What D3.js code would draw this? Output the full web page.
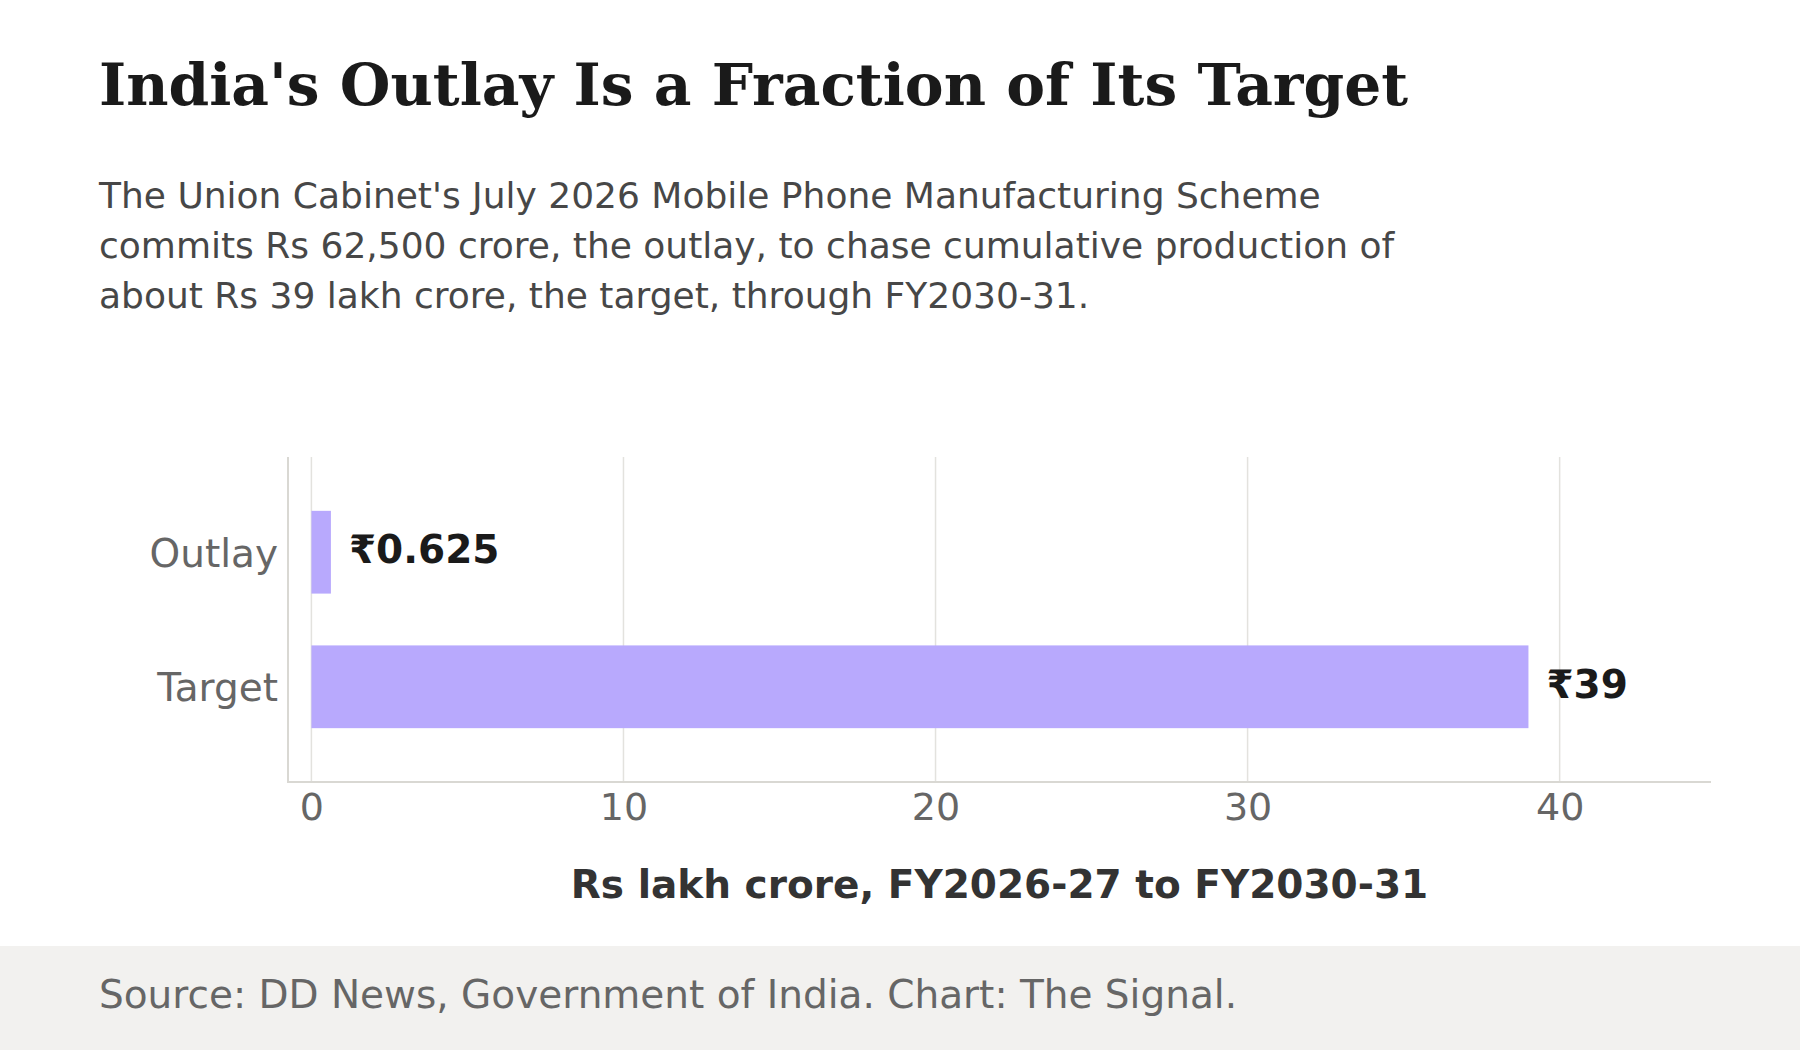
<!DOCTYPE html>
<html>
<head>
<meta charset="utf-8">
<script src="https://cdn.jsdelivr.net/npm/d3@7"></script>
<style>
  html, body { margin: 0; padding: 0; background: #ffffff; }
  svg { display: block; }
</style>
</head>
<body>
<svg id="chart" width="1800" height="1050"></svg>
<script>
// ---- Data ----
const categories = ["Outlay", "Target"];
const values = [0.625, 39];
const valueLabels = ["₹0.625", "₹39"];
const xTicks = [0, 10, 20, 30, 40];
const titleText = "India's Outlay Is a Fraction of Its Target";
const subtitleLines = [
  "The Union Cabinet's July 2026 Mobile Phone Manufacturing Scheme",
  "commits Rs 62,500 crore, the outlay, to chase cumulative production of",
  "about Rs 39 lakh crore, the target, through FY2030-31."
];
const xAxisTitle = "Rs lakh crore, FY2026-27 to FY2030-31";
const sourceText = "Source: DD News, Government of India. Chart: The Signal.";

// ---- Layout ----
const W = 1800, H = 1050;
const plot = { left: 288, right: 1711, top: 457, bottom: 782 };
const barColor = "#b8a9fd";
const sans = "'DejaVu Sans', sans-serif";
const serif = "'DejaVu Serif', serif";

const svg = d3.select("#chart");
svg.append("rect").attr("x", 0).attr("y", 0).attr("width", W).attr("height", H).attr("fill", "#ffffff");

// Title
svg.append("text")
  .attr("x", 99).attr("y", 105)
  .attr("font-family", serif).attr("font-weight", "bold")
  .attr("font-size", 58.2).attr("fill", "#1a1a1a")
  .text(titleText);

// Subtitle
svg.append("g").selectAll("text").data(subtitleLines).join("text")
  .attr("x", 99).attr("y", (d, i) => 208 + i * 50)
  .attr("font-family", sans).attr("font-size", 36).attr("fill", "#474747")
  .text(d => d);

// Scales
const x = d3.scaleLinear().domain([-0.75, 44.85]).range([plot.left, plot.right]);
const y = d3.scaleBand().domain(categories).range([plot.top, plot.bottom])
  .paddingInner(0.385).paddingOuter(0.4);

// Gridlines
svg.append("g").selectAll("line").data(xTicks).join("line")
  .attr("x1", d => x(d)).attr("x2", d => x(d))
  .attr("y1", plot.top).attr("y2", plot.bottom)
  .attr("stroke", "#e3e2de").attr("stroke-width", 1.5);

// Bars
const data = categories.map((c, i) => ({ c, v: values[i], label: valueLabels[i] }));
svg.append("g").selectAll("rect").data(data).join("rect")
  .attr("x", x(0)).attr("y", d => y(d.c))
  .attr("width", d => x(d.v) - x(0)).attr("height", y.bandwidth())
  .attr("fill", barColor);

// Value labels
svg.append("g").selectAll("text").data(data).join("text")
  .attr("x", d => x(d.v) + 18)
  .attr("y", d => y(d.c) + y.bandwidth() / 2)
  .attr("dy", "0.28em")
  .attr("font-family", sans).attr("font-weight", "bold")
  .attr("font-size", 39).attr("fill", "#1a1a1a")
  .text(d => d.label);

// X axis
const xAxis = d3.axisBottom(x).tickValues(xTicks).tickSize(0).tickPadding(11).tickFormat(d3.format("d"));
const gx = svg.append("g").attr("transform", `translate(0,${plot.bottom})`).call(xAxis);
gx.select(".domain").remove();
gx.selectAll("text").attr("font-family", sans).attr("font-size", 38).attr("fill", "#666666");

// Y axis
const yAxis = d3.axisLeft(y).tickSize(0).tickPadding(10);
const gy = svg.append("g").attr("transform", `translate(${plot.left},0)`).call(yAxis);
gy.select(".domain").remove();
gy.selectAll("text").attr("font-family", sans).attr("font-size", 39).attr("fill", "#666666").attr("dy", "0.37em");

// Axis lines
svg.append("line").attr("x1", plot.left).attr("x2", plot.left)
  .attr("y1", plot.top).attr("y2", plot.bottom + 1)
  .attr("stroke", "#d9d8d3").attr("stroke-width", 2);
svg.append("line").attr("x1", plot.left - 1).attr("x2", plot.right)
  .attr("y1", plot.bottom).attr("y2", plot.bottom)
  .attr("stroke", "#d9d8d3").attr("stroke-width", 2);

// X axis title
svg.append("text")
  .attr("x", (plot.left + plot.right) / 2).attr("y", 898)
  .attr("text-anchor", "middle")
  .attr("font-family", sans).attr("font-weight", "bold")
  .attr("font-size", 39).attr("fill", "#333333")
  .text(xAxisTitle);

// Footer
svg.append("rect").attr("x", 0).attr("y", 946).attr("width", W).attr("height", H - 946).attr("fill", "#f2f1ef");
svg.append("text")
  .attr("x", 99).attr("y", 1008)
  .attr("font-family", sans).attr("font-size", 39).attr("fill", "#666666")
  .text(sourceText);
</script>
</body>
</html>
